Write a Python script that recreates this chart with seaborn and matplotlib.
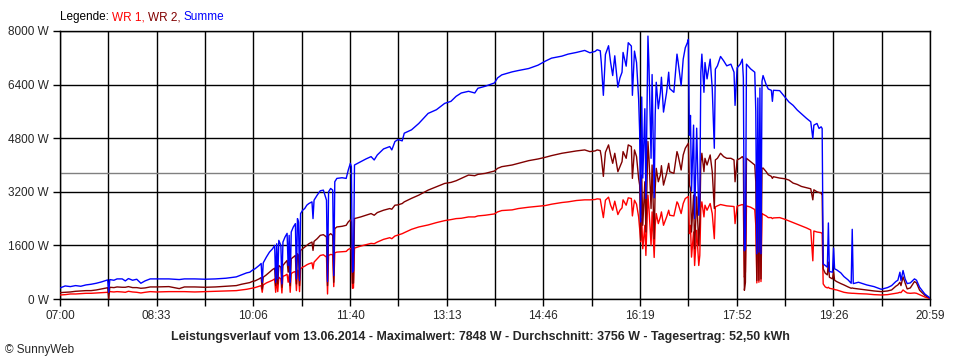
#Leistungsverlauf einer PV-Anlage am 13.06.2014 (SunnyWeb Tageskurve)
#Werte

import numpy as np
import pandas as pd
import seaborn as sns
import matplotlib
matplotlib.use("Agg")
from matplotlib import pyplot as plt

zeit = [
    "07:00","07:05","07:10","07:15","07:20","07:25","07:30","07:35","07:40","07:45",
    "07:46","07:47","07:48","07:52","07:55","08:00","08:03","08:06","08:10","08:14",
    "08:18","08:22","08:27","08:33","08:45","08:55","09:00","09:10","09:20","09:30",
    "09:40","09:50","09:55","10:00","10:03","10:06","10:08","10:12","10:14","10:15",
    "10:16","10:19","10:22","10:25","10:27","10:28","10:29","10:30","10:31","10:33",
    "10:34","10:35","10:37","10:39","10:40","10:41","10:42","10:43","10:45","10:47",
    "10:48","10:49","10:50","10:51","10:52","10:54","10:56","10:58","11:00","11:03",
    "11:04","11:05","11:08","11:11","11:14","11:17","11:18","11:19","11:21","11:23",
    "11:24","11:25","11:27","11:32","11:36","11:38","11:40","11:41","11:42","11:43",
    "11:44","11:50","11:55","12:00","12:03","12:06","12:12","12:18","12:20","12:23",
    "12:26","12:30","12:32","12:39","12:46","12:55","13:03","13:11","13:17","13:22",
    "13:27","13:34","13:40","13:43","13:50","13:59","14:02","14:06","14:16","14:22",
    "14:32","14:41","14:48","14:54","15:04","15:10","15:18","15:26","15:31","15:36",
    "15:38","15:41","15:42","15:44","15:46","15:49","15:51","15:53","15:55","15:58",
    "16:00","16:02","16:03","16:06","16:08","16:11","16:12","16:14","16:16","16:18",
    "16:19","16:20","16:21","16:22","16:24","16:25","16:27","16:28","16:30","16:31",
    "16:33","16:34","16:35","16:37","16:39","16:40","16:42","16:45","16:47","16:48",
    "16:52","16:55","16:56","16:59","17:01","17:03","17:05","17:06","17:07","17:08",
    "17:09","17:11","17:12","17:13","17:14","17:16","17:17","17:18","17:19","17:21",
    "17:22","17:24","17:27","17:29","17:31","17:32","17:34","17:37","17:40","17:43",
    "17:47","17:50","17:51","17:53","17:56","17:58","17:59","18:00","18:01","18:02",
    "18:06","18:10","18:11","18:12","18:13","18:14","18:15","18:16","18:17","18:18",
    "18:21","18:23","18:26","18:27","18:28","18:34","18:39","18:43","18:47","18:51",
    "18:55","19:00","19:04","19:06","19:07","19:10","19:12","19:14","19:15","19:16",
    "19:18","19:20","19:21","19:22","19:25","19:26","19:27","19:29","19:33","19:36",
    "19:40","19:43","19:44","19:45","19:50","19:58","20:05","20:12","20:18","20:22",
    "20:26","20:28","20:30","20:31","20:33","20:35","20:37","20:40","20:44","20:46",
    "20:49","20:54","20:59"]

summe = [
    330,390,370,400,380,420,440,470,510,560,
    570,200,580,560,600,600,540,610,560,590,
    470,540,600,600,600,580,600,600,590,600,
    620,660,720,780,800,870,900,1000,1060,500,
    1080,1250,1400,1500,1600,500,1650,600,1750,1600,
    450,1700,1850,1960,1000,1900,500,2000,2150,2250,
    600,2400,2300,550,2550,2650,2700,2800,2850,2900,
    2400,2950,3100,3230,3250,2950,520,3200,3300,3250,
    700,3500,3600,3620,3600,3850,4050,3950,800,850,
    4000,4100,4180,4250,4150,4300,4480,4550,4450,4700,
    4760,4720,4950,5050,5240,5540,5650,5840,5900,6050,
    6150,6200,6150,6290,6350,6450,6600,6690,6780,6820,
    6880,6980,7100,7190,7250,7310,7360,7420,7350,7390,
    7440,7410,7060,6080,7300,7560,7060,6670,7260,6320,
    6600,6770,7360,6950,7650,7550,6080,7400,7060,5980,
    4990,2300,6030,3610,5680,3000,7848,6960,4200,6700,
    3020,5500,6470,5680,6170,6620,5580,6170,6770,6280,
    6170,7310,7100,6370,7160,7500,7650,7750,4890,5480,
    3220,5190,2400,3710,5100,2500,3020,6770,7310,6170,
    7060,6570,7160,6280,4500,6860,6960,7240,7110,6960,
    7010,6770,5780,6900,7010,7160,6600,1440,1500,7010,
    6870,6770,5600,1350,6000,1400,6300,1350,6500,6670,
    6400,6270,6230,5900,6230,6220,6030,5880,5780,5640,
    5530,5390,5290,4790,5190,5240,5090,5140,5090,1050,
    1000,950,2270,820,800,1520,900,870,780,670,
    570,470,2080,460,500,420,370,290,340,400,
    520,560,800,550,850,600,460,480,600,560,
    350,150,30]

wr2 = [
    190,200,210,230,240,250,250,270,300,330,
    340,0,350,340,360,350,350,370,340,340,
    320,330,360,360,370,310,360,360,350,360,
    380,400,440,470,490,530,540,600,640,300,
    650,720,800,880,920,400,960,450,1000,950,
    350,1000,1080,1150,800,1100,400,1200,1250,1300,
    450,1350,1300,400,1450,1500,1550,1600,1650,1700,
    1450,1720,1800,1900,1920,1850,400,1900,1950,1900,
    500,2100,2150,2170,2200,2300,2360,2300,470,480,
    2400,2450,2500,2550,2500,2580,2650,2700,2680,2800,
    2810,2850,2900,3005,3100,3250,3350,3450,3480,3530,
    3600,3700,3680,3720,3750,3820,3900,3950,4000,4050,
    4130,4180,4230,4280,4350,4380,4420,4450,4400,4420,
    4450,4430,4250,3660,4380,4600,4300,4050,4350,3800,
    3950,4100,4400,4200,4600,4550,3600,4450,4250,3600,
    3400,1750,3700,2200,3500,2000,4700,4200,2700,4000,
    1800,3300,3900,3500,3700,3980,3400,3750,4050,3800,
    3750,4400,4300,3850,4300,4500,4600,4650,3400,3300,
    2000,3100,1500,2300,3050,1600,2300,4050,4350,3800,
    4200,4000,4300,3800,2700,4150,4200,4350,4250,4200,
    4200,4150,3500,4150,4200,4250,4200,260,500,4200,
    4100,4000,3500,550,3700,560,3800,600,3900,3910,
    3800,3710,3660,3600,3650,3610,3590,3550,3460,3420,
    3360,3320,3290,2960,3260,3200,3180,3160,3100,900,
    770,720,1100,650,600,820,560,520,460,420,
    360,320,330,320,300,270,240,220,240,270,
    380,420,500,400,660,480,300,330,520,480,
    260,110,20]

wr1 = [
    120,130,150,150,160,170,170,180,190,200,
    200,180,220,210,220,210,200,230,210,200,
    180,200,220,210,220,220,220,210,220,230,
    240,250,270,290,310,330,340,380,400,200,
    420,480,520,560,600,200,620,220,650,600,
    180,680,700,740,500,720,200,760,800,820,
    250,860,830,220,900,950,980,1020,1050,1080,
    900,1100,1200,1300,1320,1250,150,1300,1330,1320,
    370,1380,1400,1410,1420,1480,1510,1500,320,330,
    1520,1580,1620,1660,1650,1700,1780,1830,1800,1880,
    1910,1950,1980,2080,2150,2210,2280,2340,2370,2400,
    2410,2450,2450,2480,2500,2540,2600,2640,2660,2700,
    2740,2770,2790,2830,2880,2900,2940,2960,2960,2970,
    2990,2980,2800,2430,2950,3040,2800,2650,2920,2520,
    2650,2720,2960,2800,3020,3000,2480,2950,2830,2450,
    2100,1710,2400,1500,2200,1300,3100,2700,1600,2600,
    1240,2200,2550,2250,2450,2600,2200,2450,2650,2500,
    2480,2900,2850,2550,2850,3000,3040,3060,1950,2200,
    1250,2000,1000,1500,2050,1000,1300,2700,2900,2450,
    2800,2650,2850,2550,1800,2750,2780,2820,2800,2780,
    2770,2760,2250,2770,2800,2820,2800,650,800,2780,
    2740,2670,2200,480,2500,500,2550,520,2550,2530,
    2480,2430,2430,2400,2420,2430,2380,2330,2280,2230,
    2180,2120,2060,1140,2030,2000,1990,1980,1950,450,
    360,330,350,320,300,300,280,270,230,200,
    180,170,170,170,160,150,130,120,130,150,
    170,180,200,190,270,220,180,170,180,170,
    130,60,10]

xlabels = ["07:00", "08:33", "10:06", "11:40", "13:13",
           "14:46", "16:19", "17:52", "19:26", "20:59"]
durchschnitt = 3756
titel = ("Leistungsverlauf vom 13.06.2014 - Maximalwert: 7848 W - "
         "Durchschnitt: 3756 W - Tagesertrag: 52,50 kWh")

assert len(zeit) == len(summe) == len(wr1) == len(wr2)

def minuten(s):
    h, m = s.split(":")
    return int(h) * 60 + int(m)

t = [minuten(z) for z in zeit]
n = len(t)
df = pd.DataFrame({
    "zeit": t * 3,
    "leistung": wr1 + wr2 + summe,
    "reihe": ["WR 1"] * n + ["WR 2"] * n + ["Summe"] * n,
})
farben = {"WR 1": "#ff0000", "WR 2": "#800000", "Summe": "#0000ff"}

sns.set_style("white")
plt.rcParams["font.family"] = ["Liberation Sans", "DejaVu Sans"]
plt.rcParams["font.size"] = 8.5

fig = plt.figure(figsize=(9.6, 3.6), dpi=100)
ax = fig.add_axes([60 / 960, 61 / 360, 870 / 960, 268 / 360])

ax.axhline(durchschnitt, color="#808080", lw=1.0, zorder=1)
sns.lineplot(data=df, x="zeit", y="leistung", hue="reihe",
             hue_order=["WR 1", "WR 2", "Summe"], palette=farben,
             estimator=None, sort=False, lw=1.0, legend=False, ax=ax, zorder=3)

t0, t1 = minuten("07:00"), minuten("20:59")
ax.set_xlim(t0, t1)
ax.set_ylim(0, 8000)
xt = np.linspace(t0, t1, 19)
ax.set_xticks(xt)
ax.set_xticklabels([xlabels[i // 2] if i % 2 == 0 else "" for i in range(19)])
yt = np.arange(0, 8001, 1600)
ax.set_yticks(yt)
ax.set_yticklabels([f"{v} W" for v in yt])
ax.grid(True, color="black", lw=1.0, zorder=0)
ax.set_axisbelow(True)
ax.tick_params(axis="both", length=5, width=1.0, color="black", pad=3,
               labelsize=8.5, bottom=True, left=True)
for s in ax.spines.values():
    s.set_color("black")
    s.set_linewidth(1.0)
ax.set_xlabel("")
ax.set_ylabel("")

# Legende oben, mehrfarbig
teile = [("Legende: ", "black"), ("WR 1, ", "#ff0000"),
         ("WR 2, ", "#800000"), ("Summe", "#0000ff")]
r = fig.canvas.get_renderer()
x = 60 / 960
for txt, c in teile:
    tt = fig.text(x, 1 - 17 / 360, txt, color=c, fontsize=8.5, va="center", ha="left")
    bb = tt.get_window_extent(renderer=r)
    x += bb.width / fig.bbox.width

fig.text(0.5, 1 - 337 / 360, titel, ha="center", va="center",
         fontsize=8.9, fontweight="bold")
fig.text(5 / 960, 1 - 350 / 360, "\u00a9 SunnyWeb", ha="left", va="center", fontsize=8.5)

plt.savefig("out.png", dpi=100, facecolor="white")
